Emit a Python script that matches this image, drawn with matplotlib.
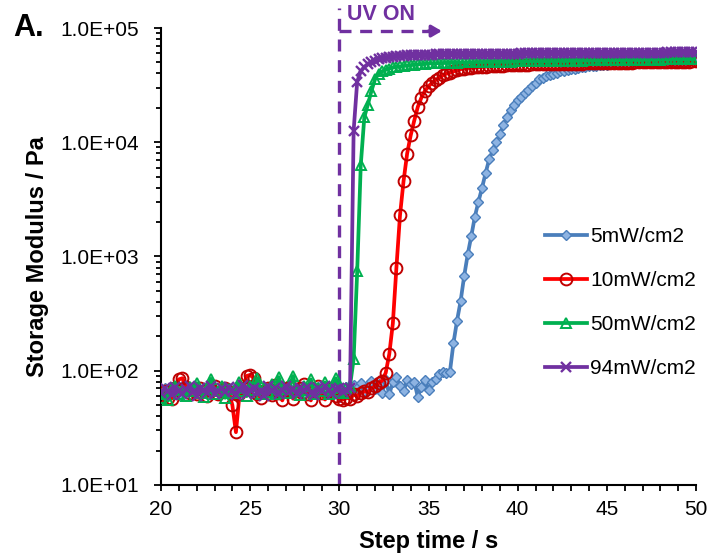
import numpy as np
import matplotlib
matplotlib.use("Agg")
import matplotlib.pyplot as plt
from matplotlib.ticker import FuncFormatter, LogLocator, NullFormatter, MultipleLocator

plt.rcParams['font.family'] = ['Liberation Sans', 'DejaVu Sans']

# Step time grid (s), one reading every 0.2 s
step_time = np.round(np.arange(20.0, 50.0 + 1e-9, 0.2), 1)

# Storage modulus (Pa) for each UV intensity
g_5mw = [
    66, 70, 63, 72, 68, 61, 74, 67, 70, 64,
    71, 66, 69, 62, 73, 68, 65, 71, 64, 70,
    67, 72, 63, 69, 66, 70, 64, 73, 67, 62,
    71, 68, 65, 70, 66, 72, 64, 69, 67, 71,
    63, 68, 70, 65, 72, 66, 69, 64, 71, 67,
    70, 66, 72, 68, 75, 70, 78, 66, 73, 81,
    69, 76, 64, 83, 62, 80, 88, 74, 66, 83,
    76, 80, 59, 72, 83, 68, 79, 84, 94, 98,
    96, 98, 175, 275, 407, 676, 1047, 1514, 2239, 3020,
    3981, 5370, 7080, 8511, 10000, 11750, 14125, 16600, 19050, 21380,
    23440, 25120, 26920, 28840, 30900, 33110, 35480, 36730, 38020, 38900,
    39810, 40740, 41690, 42170, 43150, 43650, 44160, 44670, 45190, 45710,
    46240, 46500, 46800, 47100, 47400, 47700, 48000, 48200, 48400, 48700,
    48900, 49100, 49300, 49500, 49700, 49900, 50100, 50300, 50500, 50600,
    50800, 51000, 51100, 51300, 51400, 51600, 51700, 51900, 52000, 52100,
    52300,
]
g_10mw = [
    60, 66, 58, 57, 70, 84, 86, 72, 64, 68,
    62, 71, 66, 60, 69, 74, 63, 67, 70, 65,
    50, 29, 62, 71, 90, 92, 86, 62, 58, 66,
    70, 61, 75, 64, 55, 68, 72, 57, 66, 70,
    76, 62, 55, 68, 73, 64, 56, 66, 71, 60,
    57, 56, 58, 57, 62, 60, 64, 66, 65, 70,
    73, 78, 82, 96, 140, 260, 800, 2290, 4570, 7940,
    11480, 15490, 20420, 24550, 28180, 30900, 33110, 35080, 36730, 38460,
    39810, 40740, 41690, 42660, 43650, 44160, 44670, 45000, 45300, 45500,
    45700, 45900, 46100, 46300, 46500, 46700, 46900, 47100, 47300, 47500,
    47700, 47760, 47830, 47900, 47960, 48030, 48100, 48160, 48230, 48300,
    48360, 48430, 48500, 48560, 48630, 48700, 48760, 48830, 48900, 48960,
    49030, 49100, 49160, 49230, 49300, 49360, 49430, 49500, 49560, 49630,
    49700, 49760, 49830, 49900, 49960, 50030, 50100, 50160, 50230, 50300,
    50360, 50430, 50500, 50560, 50630, 50700, 50760, 50830, 50900, 50960,
    51030,
]
g_50mw = [
    58, 62, 55, 70, 74, 63, 68, 60, 72, 66,
    78, 64, 59, 70, 85, 62, 67, 73, 58, 69,
    64, 71, 80, 66, 60, 74, 68, 86, 63, 70,
    65, 76, 62, 88, 69, 64, 72, 90, 66, 61,
    74, 68, 84, 63, 70, 66, 79, 62, 71, 86,
    67, 64, 70, 74, 126, 741, 6310, 16600, 21400, 28200,
    35500, 39800, 41700, 43200, 44200, 45200, 45700, 46100, 46600, 47000,
    47400, 47700, 48000, 48400, 48700, 49000, 49100, 49200, 49300, 49400,
    49500, 49600, 49700, 49800, 49900, 50000, 50100, 50200, 50300, 50350,
    50400, 50500, 50550, 50600, 50700, 50750, 50800, 50850, 50900, 50950,
    51000, 51050, 51100, 51150, 51200, 51250, 51300, 51350, 51400, 51450,
    51500, 51550, 51600, 51650, 51700, 51750, 51800, 51850, 51900, 51950,
    52000, 52050, 52100, 52150, 52200, 52250, 52300, 52350, 52400, 52450,
    52500, 52550, 52600, 52650, 52700, 52750, 52800, 52850, 52900, 52950,
    53000, 53050, 53100, 53150, 53200, 53250, 53300, 53350, 53400, 53450,
    53500,
]
g_94mw = [
    64, 70, 66, 61, 72, 67, 63, 69, 74, 65,
    60, 71, 68, 64, 73, 62, 67, 70, 65, 72,
    66, 61, 69, 75, 63, 68, 71, 64, 67, 60,
    73, 66, 70, 62, 68, 74, 65, 69, 63, 71,
    67, 72, 64, 61, 70, 66, 73, 68, 62, 69,
    71, 65, 68, 70, 12600, 33900, 41700, 45700, 48400, 50100,
    51900, 53100, 54300, 55000, 55600, 56200, 56700, 57100, 57400, 57700,
    57900, 58100, 58200, 58300, 58400, 58500, 58600, 58650, 58700, 58750,
    58800, 58850, 58900, 58950, 59000, 59050, 59100, 59150, 59200, 59250,
    59300, 59350, 59400, 59450, 59500, 59550, 59600, 59650, 59700, 59750,
    59800, 59830, 59860, 59890, 59920, 59950, 59980, 60010, 60040, 60070,
    60100, 60130, 60160, 60190, 60220, 60250, 60280, 60310, 60340, 60370,
    60400, 60430, 60460, 60490, 60520, 60550, 60580, 60610, 60640, 60670,
    60700, 60730, 60760, 60790, 60820, 60850, 60880, 60910, 60940, 60970,
    61000, 61030, 61060, 61090, 61120, 61150, 61180, 61210, 61240, 61270,
    61300,
]

series_labels = ['5mW/cm2', '10mW/cm2', '50mW/cm2', '94mW/cm2']

uv_on_time = 30.0
purple = '#7030A0'

fig = plt.figure(figsize=(7.10, 5.59), dpi=100)
ax = fig.add_axes([0.2268, 0.1324, 0.7535, 0.8175])

styles = [
    dict(color='#4A7EBB', marker='D', ms=5.2, mfc='#8DB3E2', mec='#4A7EBB', mew=1.0),
    dict(color='#FF0000', marker='o', ms=8.5, mfc='none', mec='#C00000', mew=1.4),
    dict(color='#00B050', marker='^', ms=7, mfc='none', mec='#00B050', mew=1.4),
    dict(color=purple, marker='x', ms=7.5, mec=purple, mew=1.7),
]
for values, label, st in zip([g_5mw, g_10mw, g_50mw, g_94mw], series_labels, styles):
    ax.plot(step_time, values, lw=2.7, label=label, zorder=3, **st)

ax.set_yscale('log')
ax.set_xlim(20, 50)
ax.set_ylim(10, 1e5)

ax.yaxis.set_major_locator(LogLocator(base=10, numticks=10))
ax.yaxis.set_minor_locator(LogLocator(base=10, subs=np.arange(2, 10), numticks=10))
ax.yaxis.set_minor_formatter(NullFormatter())
ax.yaxis.set_major_formatter(FuncFormatter(lambda v, p: f"{v:.1E}"))
ax.xaxis.set_major_locator(MultipleLocator(5))
ax.xaxis.set_minor_locator(MultipleLocator(1))

for side in ('top', 'right'):
    ax.spines[side].set_visible(False)
for side in ('left', 'bottom'):
    ax.spines[side].set_linewidth(1.5)
    ax.spines[side].set_color('black')

ax.tick_params(axis='y', which='major', direction='out', length=5, width=1.3,
               labelsize=15, pad=11)
ax.tick_params(axis='y', which='minor', direction='out', length=3.5, width=1.3)
ax.tick_params(axis='x', which='major', direction='out', length=4.5, width=1.3,
               labelsize=15, pad=6)
ax.tick_params(axis='x', which='minor', direction='out', length=4.5, width=1.3)

ax.set_xlabel('Step time / s', fontsize=17, fontweight='bold', labelpad=8)
ax.set_ylabel('Storage Modulus / Pa', fontsize=17, fontweight='bold', labelpad=8)

# UV ON marker: dashed vertical at switch-on time plus dashed arrow
dash = (0, (3.6, 2.6))
ax.plot([uv_on_time, uv_on_time], [10, 1.5e5], color=purple, lw=2.4, ls=dash,
        clip_on=False, zorder=2)
ax.plot([uv_on_time, 35.1], [9.4e4, 9.4e4], color=purple, lw=2.4, ls=dash,
        clip_on=False, zorder=2)
ax.annotate('', xy=(35.75, 9.4e4), xytext=(35.0, 9.4e4),
            arrowprops=dict(arrowstyle='-|>,head_length=0.6,head_width=0.35',
                            color=purple, lw=2.4, shrinkA=0, shrinkB=0),
            annotation_clip=False)
ax.text(32.35, 1.3e5, 'UV ON', color=purple, fontsize=15.5, fontweight='bold',
        ha='center', va='center', clip_on=False)

fig.text(0.018, 0.95, 'A.', fontsize=22, fontweight='bold', ha='left', va='center')

ax.legend(loc='center left', bbox_to_anchor=(0.768, 0.459),
          bbox_transform=fig.transFigure, frameon=False, fontsize=15,
          handlelength=2.0, handletextpad=0.15, labelspacing=1.2,
          borderpad=0, borderaxespad=0, numpoints=1)

fig.savefig('out.png', dpi=100)
